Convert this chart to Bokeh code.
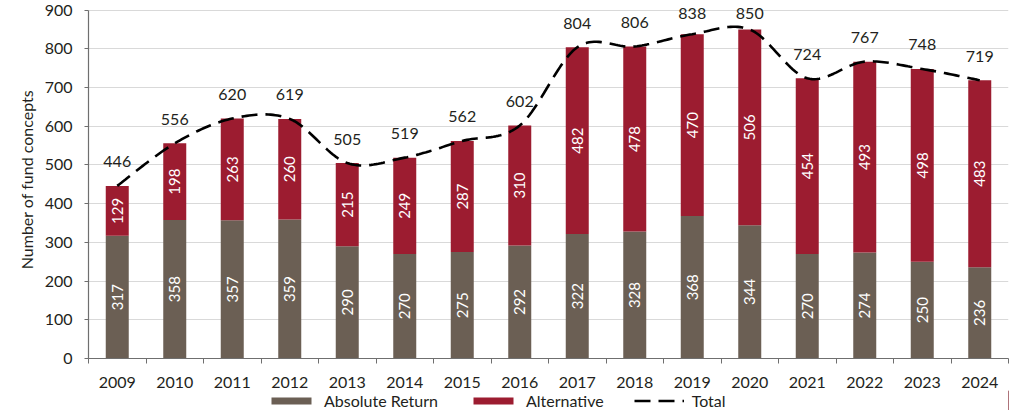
import numpy as np
from bokeh.plotting import figure
from bokeh.layouts import column
from bokeh.models import Range1d, FixedTicker, ColumnDataSource, Legend, LegendItem
from bokeh.core.properties import value
from bokeh.embed import file_html
from bokeh.resources import INLINE

years = [2009, 2010, 2011, 2012, 2013, 2014, 2015, 2016, 2017, 2018, 2019, 2020, 2021, 2022, 2023, 2024]
absolute_return = [317, 358, 357, 359, 290, 270, 275, 292, 322, 328, 368, 344, 270, 274, 250, 236]
alternative = [129, 198, 263, 260, 215, 249, 287, 310, 482, 478, 470, 506, 454, 493, 498, 483]
total = [446, 556, 620, 619, 505, 519, 562, 602, 804, 806, 838, 850, 724, 767, 748, 719]

FONT = "Lato"
BROWN = "#6b5f54"
RED = "#9c1c30"
TXT = "#231f20"
AXIS = "#6f6f6f"

n = len(years)
xs = np.arange(n, dtype=float)
ar = np.array(absolute_return, dtype=float)
alt = np.array(alternative, dtype=float)
tot = np.array(total, dtype=float)

PX_PER_UNIT = 348.0 / 900.0
Y_TOP = 925.0  # a little head-room above 900 so the top labels are not clipped
FH = int(round(Y_TOP * PX_PER_UNIT))

p = figure(frame_width=920, frame_height=FH, output_backend="svg", toolbar_location=None,
           x_range=Range1d(-0.5, n - 0.5), y_range=Range1d(0, Y_TOP),
           min_border_left=88, min_border_right=4, min_border_top=0, min_border_bottom=0)
p.outline_line_color = None
p.background_fill_color = "white"
p.border_fill_color = "white"

upp = 1.0 / PX_PER_UNIT  # data units per pixel
lab_y = np.minimum(tot + 24 * upp, 900 - 3 * upp)

src = ColumnDataSource(dict(
    x=xs, ar=ar, top=ar + alt,
    ar_mid=ar / 2, alt_mid=ar + alt / 2,
    ar_txt=[str(v) for v in absolute_return],
    alt_txt=[str(v) for v in alternative],
    lab_y=lab_y, tot_txt=[str(v) for v in total],
))

p.vbar(x="x", width=0.4, bottom=0, top="ar", source=src, fill_color=BROWN, line_color=None)
p.vbar(x="x", width=0.4, bottom="ar", top="top", source=src, fill_color=RED, line_color=None)

# smoothed total line (Excel-like Bezier smoothing through the data points)
P = np.column_stack([xs, tot])
cx, cy = [], []
for i in range(n - 1):
    p0 = P[i - 1] if i > 0 else P[i]
    p1 = P[i]
    p2 = P[i + 1]
    p3 = P[i + 2] if i + 2 < n else P[i + 1]
    c1 = p1 + (p2 - p0) / 6.0
    c2 = p2 - (p3 - p1) / 6.0
    for t in np.linspace(0, 1, 24, endpoint=(i == n - 2)):
        b = ((1 - t) ** 3) * p1 + 3 * ((1 - t) ** 2) * t * c1 + 3 * (1 - t) * t * t * c2 + t ** 3 * p2
        cx.append(b[0]); cy.append(b[1])
p.line(cx, cy, line_color="black", line_width=2.6, line_dash="16 8")

p.text(x="x", y="ar_mid", text="ar_txt", source=src, angle=np.pi / 2,
       text_align="center", text_baseline="middle", text_color="white",
       text_font=value(FONT), text_font_size="15px")
p.text(x="x", y="alt_mid", text="alt_txt", source=src, angle=np.pi / 2,
       text_align="center", text_baseline="middle", text_color="white",
       text_font=value(FONT), text_font_size="15px")
p.text(x="x", y="lab_y", text="tot_txt", source=src,
       text_align="center", text_baseline="middle", text_color=TXT,
       text_font=value(FONT), text_font_size="16px")

# axes
p.xgrid.grid_line_color = None
p.ygrid.grid_line_color = "#d9d9d9"
p.ygrid.grid_line_width = 1.2
p.ygrid.ticker = FixedTicker(ticks=list(range(0, 1000, 100)))

xa = p.xaxis[0]
xa.ticker = FixedTicker(ticks=list(xs), minor_ticks=list(np.arange(-0.5, n, 1.0)))
xa.major_label_overrides = {float(i): str(y) for i, y in enumerate(years)}
xa.major_tick_line_color = None
xa.minor_tick_in = 0
xa.minor_tick_out = 5
xa.minor_tick_line_color = AXIS
xa.axis_line_color = AXIS
xa.axis_line_width = 1.2
xa.major_label_text_font = FONT
xa.major_label_text_font_size = "16px"
xa.major_label_text_color = TXT
xa.major_label_standoff = 12

ya = p.yaxis[0]
ya.ticker = FixedTicker(ticks=list(range(0, 1000, 100)))
ya.bounds = (0, 900)
ya.minor_tick_line_color = None
ya.major_tick_in = 0
ya.major_tick_out = 4
ya.major_tick_line_color = AXIS
ya.axis_line_color = AXIS
ya.axis_line_width = 1.2
ya.major_label_text_font = FONT
ya.major_label_text_font_size = "16px"
ya.major_label_text_color = TXT
ya.major_label_standoff = 12
ya.axis_label = "Number of fund concepts"
ya.axis_label_text_font = FONT
ya.axis_label_text_font_size = "16px"
ya.axis_label_text_font_style = "normal"
ya.axis_label_text_color = TXT
ya.axis_label_standoff = 6

# legend in its own strip below the chart (frame is aligned with the chart frame)
lf = figure(width=88 + 920 + 4, height=20, output_backend="svg", toolbar_location=None,
            x_range=Range1d(0, 1), y_range=Range1d(0, 1), x_axis_type=None, y_axis_type=None,
            min_border=0)
lf.outline_line_color = None
lf.xgrid.grid_line_color = None
lf.ygrid.grid_line_color = None
# one off-screen sample each so the legend swatches have something to draw from
hidden = ColumnDataSource(dict(x=[5.0, 6.0], y=[5.0, 5.0], top=[5.0, 5.0]))
l_ar = lf.vbar(x="x", top="top", width=0.1, source=hidden, fill_color=BROWN, line_color=None)
l_alt = lf.vbar(x="x", top="top", width=0.1, source=hidden, fill_color=RED, line_color=None)
l_tot = lf.line(x="x", y="y", source=hidden, line_color="black", line_width=2.6, line_dash="16 8")

legend = Legend(items=[
    LegendItem(label="Absolute Return", renderers=[l_ar]),
    LegendItem(label="Alternative", renderers=[l_alt]),
    LegendItem(label="Total", renderers=[l_tot]),
], orientation="horizontal", location=(178, 0))
legend.label_text_font = FONT
legend.label_text_font_size = "16px"
legend.label_text_color = TXT
legend.glyph_width = 50
legend.glyph_height = 9
legend.label_standoff = 8
legend.label_height = 18
legend.spacing = 30
legend.padding = 0
legend.margin = 0
legend.border_line_color = None
legend.background_fill_alpha = 0
lf.add_layout(legend)

layout = column(p, lf, spacing=0)
open("out.html", "w").write(file_html(layout, INLINE))
